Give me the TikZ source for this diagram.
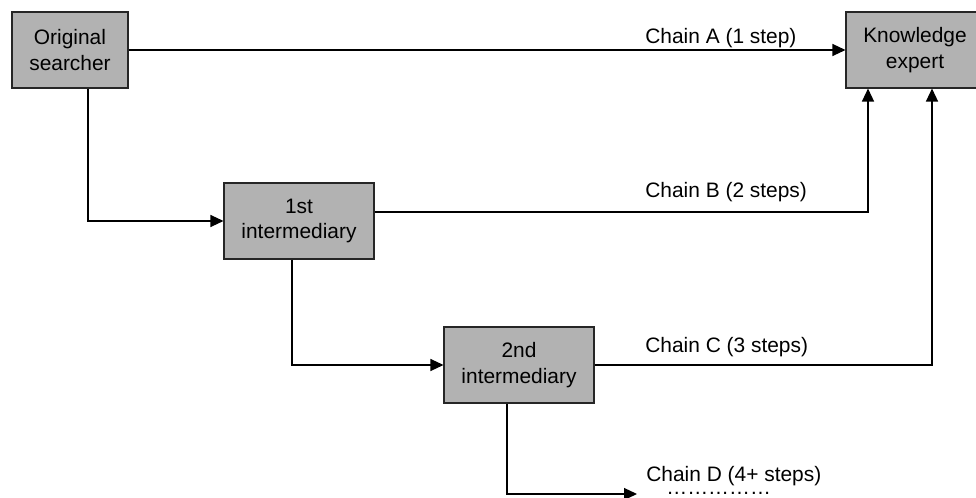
\documentclass[tikz,border=0pt]{standalone}
\usepackage{fontspec}
\setmainfont{Liberation Sans}
\usetikzlibrary{arrows.meta}
\definecolor{boxgray}{gray}{0.70}
\tikzset{
  BoxStyle/.style = { rectangle, draw = black!85, fill = boxgray,
                      line width = 0.6pt, align = center,
                      minimum height = 15.2mm, inner sep = 0pt },
  ChainStyle/.style = { -{Triangle[length=7.4pt,width=6.8pt]},
                        line width = 0.8pt },
  LabelStyle/.style = { anchor = base west, inner sep = 0pt } }

\begin{document}
\begin{tikzpicture}[x=0.2mm,y=0.2mm,font=\fontsize{11.9}{14.7}\selectfont]
  \useasboundingbox (0,0) rectangle (976,497);

  \node[BoxStyle, minimum width=23.2mm] (orig) at (70,447) {Original\\searcher};
  \node[BoxStyle, minimum width=27.6mm] (expert) at (915,447) {Knowledge\\expert};
  \node[BoxStyle, minimum width=30mm] (first) at (299,276) {1st\\intermediary};
  \node[BoxStyle, minimum width=30mm] (second) at (519,132) {2nd\\intermediary};

  \coordinate (dEnd) at (637,3);

  % chain A
  \draw[ChainStyle] (orig.east) -- (expert.west);
  \node[LabelStyle] (chainA) at (645,453) {Chain A (1 step)};

  % chain B
  \draw[ChainStyle] ([xshift=3.6mm]orig.south) |- (first.west);
  \draw[ChainStyle] ([yshift=1.8mm]first.east) -| ([xshift=-9.4mm]expert.south);
  \node[LabelStyle] (chainB) at (645,299) {Chain B (2 steps)};

  % chain C
  \draw[ChainStyle] ([xshift=-1.4mm]first.south) |- (second.west);
  \draw[ChainStyle] (second.east) -| ([xshift=3.4mm]expert.south);
  \node[LabelStyle] (chainC) at (645,145) {Chain C (3 steps)};

  % chain D
  \draw[ChainStyle] ([xshift=-2.4mm]second.south) |- (dEnd);
  \node[LabelStyle] (chainD) at (646,16) {Chain D (4+ steps)};
  \node[LabelStyle, text height=2pt, text depth=0pt] (dots) at (666,3) {……………};

\end{tikzpicture}
\end{document}
